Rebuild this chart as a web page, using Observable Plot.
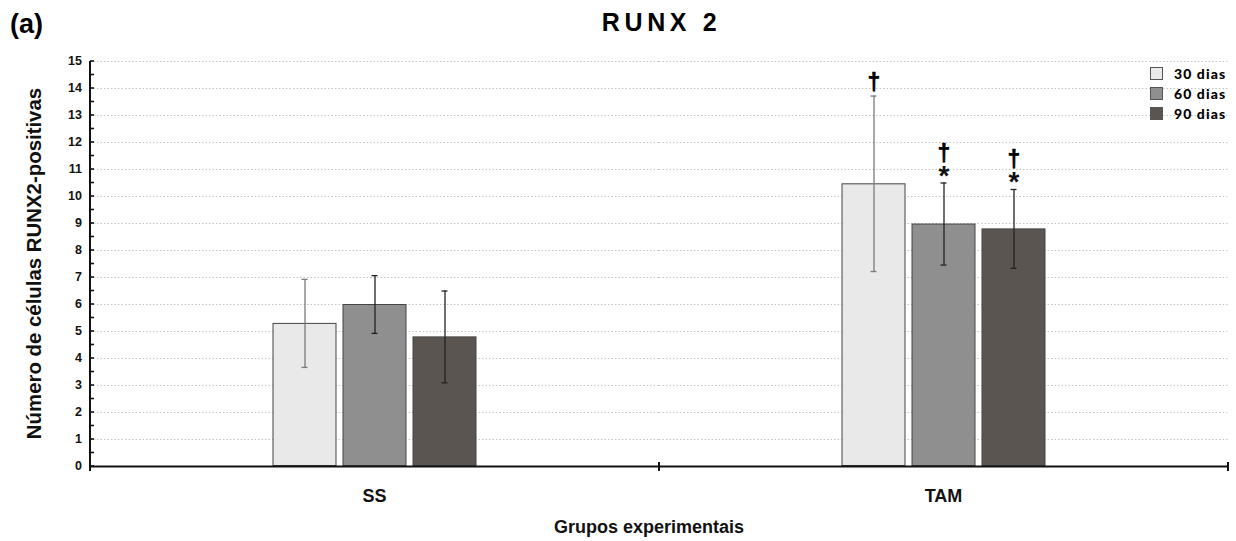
<!DOCTYPE html>
<html>
<head>
<meta charset="utf-8">
<script src="https://cdn.jsdelivr.net/npm/d3@7"></script>
<script src="https://cdn.jsdelivr.net/npm/@observablehq/plot@0.6"></script>
<style>
  html, body { margin: 0; padding: 0; background: #fff; }
  #wrap { position: relative; width: 1236px; height: 541px; font-family: "Liberation Sans", Arial, sans-serif; }
  #panel { position: absolute; left: 10px; top: 11px; font-size: 27px; line-height: 27px; font-weight: bold; }
  #title { position: absolute; left: 0; width: 1323px; top: 10px; text-align: center; font-size: 25px; line-height: 25px; font-weight: bold; letter-spacing: 4.6px; }
  #legend { position: absolute; left: 1150px; top: 63px; font-family: Lato, sans-serif; font-weight: 900; font-size: 14px; letter-spacing: 1.1px; }
  #legend .row { display: flex; align-items: center; height: 20px; }
  #legend .sw { width: 13px; height: 13px; border: 1px solid #555; margin-right: 11px; box-sizing: border-box; }
  svg text { font-family: "Liberation Sans", Arial, sans-serif; }
</style>
</head>
<body>
<div id="wrap">
  <div id="panel">(a)</div>
  <div id="title">RUNX 2</div>
  <div id="chart"></div>
  <div id="legend"></div>
</div>
<script>
const groups = ["SS", "TAM"];
const series = ["30 dias", "60 dias", "90 dias"];
const colors = ["#e9e9e9", "#8f8f8f", "#5a5551"];
const errColors = ["#7a7a7a", "#222222", "#222222"];
const meansSS = [5.3, 6.0, 4.8];
const sdSS = [1.63, 1.07, 1.7];
const meansTAM = [10.47, 8.98, 8.8];
const sdTAM = [3.25, 1.52, 1.46];
const daggerSS = [false, false, false];
const starSS = [false, false, false];
const daggerTAM = [true, true, true];
const starTAM = [false, true, true];
const yTicks = d3.range(0, 16, 1);
const yMinor = d3.range(0, 15.01, 0.5);

const data = [];
groups.forEach((g, gi) => {
  const means = gi === 0 ? meansSS : meansTAM;
  const sds = gi === 0 ? sdSS : sdTAM;
  const dg = gi === 0 ? daggerSS : daggerTAM;
  const st = gi === 0 ? starSS : starTAM;
  series.forEach((s, si) => {
    data.push({group: g, series: s, mean: means[si], lo: means[si] - sds[si], hi: means[si] + sds[si],
      dagger: dg[si], star: st[si], err: errColors[si]});
  });
});
const stars = data.filter(d => d.star);
const daggersHigh = data.filter(d => d.dagger && d.star);
const daggersLow = data.filter(d => d.dagger && !d.star);

const W = 1236, H = 541;
const plot = Plot.plot({
  width: W,
  height: H,
  marginLeft: 90,
  marginRight: 8,
  marginTop: 61,
  marginBottom: 75,
  style: {background: "transparent", overflow: "visible"},
  fx: {domain: groups, padding: 0, label: null, axis: null},
  x: {domain: series, paddingInner: 0.1, paddingOuter: 2.6, axis: null},
  y: {domain: [0, 15], axis: null},
  color: {domain: series, range: colors},
  marks: [
    Plot.gridY(yTicks.filter(d => d > 0), {stroke: "#c4c4c4", strokeOpacity: 1, strokeDasharray: "1.5,2", strokeWidth: 1}),
    Plot.barY(data, {fx: "group", x: "series", y: "mean", fill: "series", stroke: "#444", strokeWidth: 1, insetTop: 0.5, insetBottom: 0.5}),
    Plot.ruleX(data, {fx: "group", x: "series", y1: "lo", y2: "hi", stroke: "err", strokeWidth: 1.3}),
    Plot.tickY(data, {fx: "group", x: "series", y: "hi", stroke: "err", strokeWidth: 1.3, insetLeft: 28.5, insetRight: 28.5}),
    Plot.tickY(data, {fx: "group", x: "series", y: "lo", stroke: "err", strokeWidth: 1.3, insetLeft: 28.5, insetRight: 28.5}),
    Plot.text(stars, {fx: "group", x: "series", y: "hi", text: () => "*", lineAnchor: "bottom", dy: 2, fontSize: 28, fontWeight: "bold", fill: "#111"}),
    Plot.text(daggersHigh, {fx: "group", x: "series", y: "hi", text: () => "†", lineAnchor: "bottom", dy: -22, fontSize: 23, fontWeight: "bold", fill: "#000", stroke: "#000", strokeWidth: 0.6}),
    Plot.text(daggersLow, {fx: "group", x: "series", y: "hi", text: () => "†", lineAnchor: "bottom", dy: -6, fontSize: 23, fontWeight: "bold", fill: "#000", stroke: "#000", strokeWidth: 0.6}),
    Plot.ruleY([0], {stroke: "#111", strokeWidth: 2})
  ]
});
document.getElementById("chart").appendChild(plot);

// axes drawn with the plot's own scales
const svg = d3.select(plot);
const ys = plot.scale("y");
const fxs = plot.scale("fx");
const bw = fxs.bandwidth;
const left = fxs.apply("SS");
const right = fxs.apply("TAM") + bw;
const g = svg.append("g");
g.append("line").attr("x1", left).attr("x2", left).attr("y1", ys.apply(15)).attr("y2", ys.apply(0) + 1)
  .attr("stroke", "#111").attr("stroke-width", 2);
yMinor.forEach(v => {
  g.append("line").attr("x1", left).attr("x2", left + 4).attr("y1", ys.apply(v)).attr("y2", ys.apply(v))
    .attr("stroke", "#111").attr("stroke-width", 1.6);
});
yTicks.forEach(v => {
  g.append("text").attr("x", left - 8).attr("y", ys.apply(v)).attr("dy", "0.35em")
    .attr("text-anchor", "end").attr("font-size", 12.5).attr("font-weight", "bold").attr("fill", "#111").text(v);
});
[left, fxs.apply("TAM"), right].forEach(px => {
  g.append("line").attr("x1", px).attr("x2", px).attr("y1", ys.apply(0) - 4).attr("y2", ys.apply(0) + 5)
    .attr("stroke", "#111").attr("stroke-width", 2);
});
groups.forEach(gr => {
  g.append("text").attr("x", fxs.apply(gr) + bw / 2).attr("y", 502).attr("text-anchor", "middle")
    .attr("font-size", 18).attr("font-weight", "bold").attr("fill", "#111").text(gr);
});
g.append("text").attr("x", (left + right) / 2 - 10).attr("y", 533).attr("text-anchor", "middle")
  .attr("font-size", 18).attr("font-weight", "bold").attr("fill", "#111").text("Grupos experimentais");
g.append("text").attr("transform", `translate(41,${(ys.apply(0) + ys.apply(15)) / 2}) rotate(-90)`)
  .attr("text-anchor", "middle").attr("font-size", 20.4).attr("font-weight", "bold").attr("fill", "#111")
  .text("Número de células RUNX2-positivas");

const leg = document.getElementById("legend");
series.forEach((s, i) => {
  const row = document.createElement("div");
  row.className = "row";
  const sw = document.createElement("div");
  sw.className = "sw";
  sw.style.background = colors[i];
  row.appendChild(sw);
  const t = document.createElement("span");
  t.textContent = s;
  row.appendChild(t);
  leg.appendChild(row);
});
</script>
</body>
</html>
